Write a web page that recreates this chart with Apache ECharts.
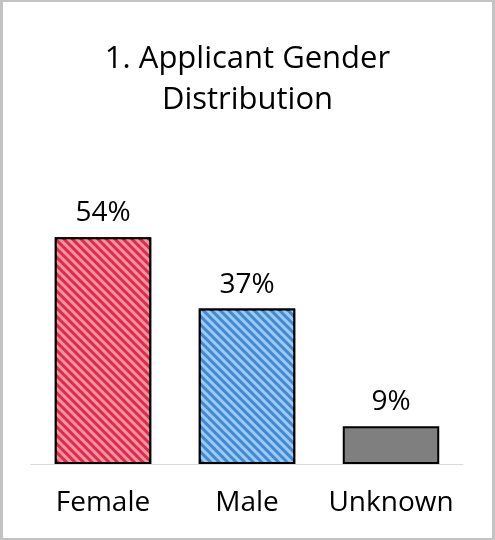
<!DOCTYPE html>
<html>
<head>
<meta charset="utf-8">
<script src="https://cdn.jsdelivr.net/npm/echarts@6/dist/echarts.min.js"></script>
<style>
  html, body { margin: 0; padding: 0; background: #fff; }
  #chart {
    width: 489px; height: 536px;
    border-style: solid; border-color: #c3c3c3;
    border-width: 2px 3px 2px 3px;
  }
</style>
</head>
<body>
<div id="chart"></div>
<script>
// data
const categories = ['Female', 'Male', 'Unknown'];
const shares = [54, 37, 9];
const barColors = ['#dc2c48', '#3f8ad2', '#7f7f7f'];
const stripeColors = ['rgba(255,170,185,0.8)', 'rgba(190,222,255,0.75)', null];

const chart = echarts.init(document.getElementById('chart'));

const barData = shares.map((v, i) => {
  const style = {
    color: barColors[i],
    borderColor: '#000',
    borderWidth: 2
  };
  if (stripeColors[i]) {
    style.decal = {
      symbol: 'rect',
      symbolSize: 1,
      dashArrayX: [1, 0],
      dashArrayY: [2.5, 2.5],
      rotation: Math.PI / 4,
      color: stripeColors[i]
    };
  }
  return { value: v, itemStyle: style };
});

chart.setOption({
  animation: false,
  title: {
    text: '1. Applicant Gender\nDistribution',
    left: 'center',
    top: 32,
    textStyle: {
      fontFamily: 'Open Sans',
      fontSize: 31,
      fontWeight: 'normal',
      color: '#000',
      lineHeight: 41
    }
  },
  grid: { left: 28, right: 29, top: 210, bottom: 74 },
  xAxis: {
    type: 'category',
    data: categories,
    axisLine: { lineStyle: { color: '#d9d9d9', width: 1 } },
    axisTick: { show: false },
    axisLabel: {
      interval: 0,
      fontFamily: 'Open Sans',
      fontSize: 28,
      color: '#000',
      margin: 25
    }
  },
  yAxis: {
    type: 'value',
    min: 0,
    max: 60,
    show: false
  },
  series: [{
    type: 'bar',
    data: barData,
    barCategoryGap: '33%',
    label: {
      show: true,
      position: 'top',
      distance: 10,
      formatter: '{c}%',
      fontFamily: 'Open Sans',
      fontSize: 28,
      color: '#000'
    }
  }]
});
</script>
</body>
</html>
